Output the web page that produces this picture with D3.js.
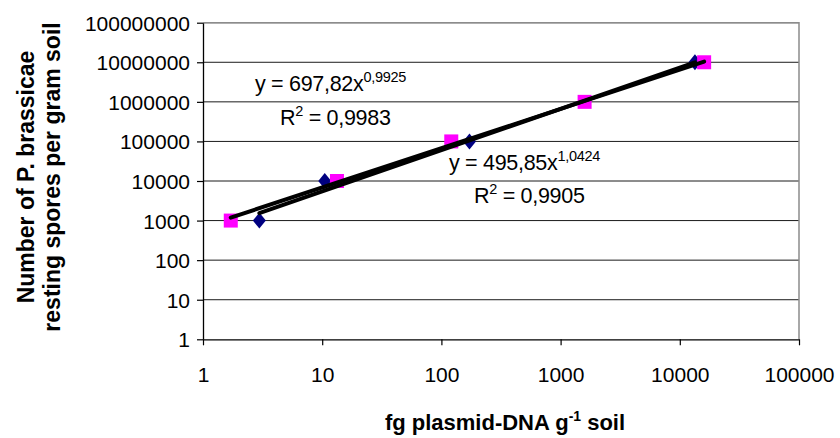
<!DOCTYPE html>
<html>
<head>
<meta charset="utf-8">
<script src="https://cdn.jsdelivr.net/npm/d3@7/dist/d3.min.js"></script>
<style>
  body { margin: 0; background: #fff; }
  text { font-family: Arial, "Liberation Sans", sans-serif; }
</style>
</head>
<body>
<div id="chart"></div>
<script>
// Data
var xTicks = [1, 10, 100, 1000, 10000, 100000];
var yTicks = [1, 10, 100, 1000, 10000, 100000, 1000000, 10000000, 100000000];

// series 1 (magenta squares)
var squareX = [1.71, 13.3, 121, 1590, 16000];
var squareY = [1000, 10000, 100000, 1000000, 10000000];

// series 2 (navy diamonds)
var diamondX = [2.97, 10.5, 172, 13400];
var diamondY = [1000, 10000, 100000, 10000000];

// power trendlines y = a * x^b, as printed on the chart
var trendA = [697.82, 495.85];
var trendB = [0.9925, 1.0424];
var trendLabel = ['697,82x', '495,85x'];
var trendExpLabel = ['0,9925', '1,0424'];
var trendR2 = ['0,9983', '0,9905'];

var width = 840,
    height = 438;

var plot = {left: 203, right: 799, top: 22.7, bottom: 339.3};

var svg = d3.select('#chart')
            .append('svg')
            .attr('width', width)
            .attr('height', height);

svg.append('rect')
   .attr('width', width)
   .attr('height', height)
   .attr('fill', '#fff');

// Log scales on both axes
var x = d3.scaleLog()
          .domain([1, 100000])
          .range([plot.left, plot.right]);

var y = d3.scaleLog()
          .domain([1, 100000000])
          .range([plot.bottom, plot.top]);

// Horizontal gridlines
svg.append('g')
   .selectAll('line')
   .data(yTicks.slice(1))
   .enter()
   .append('line')
   .attr('x1', plot.left)
   .attr('x2', plot.right)
   .attr('y1', function(d) { return y(d); })
   .attr('y2', function(d) { return y(d); })
   .attr('stroke', '#1a1a1a')
   .attr('stroke-width', 1);

// grey frame on top and right
svg.append('path')
   .attr('d', 'M' + plot.left + ',' + plot.top + 'H' + plot.right + 'V' + plot.bottom)
   .attr('fill', 'none')
   .attr('stroke', '#8c8c8c')
   .attr('stroke-width', 1.5);

// Axes
var x_axis = d3.axisBottom(x)
               .tickValues(xTicks)
               .tickFormat(d3.format('d'))
               .tickSizeInner(6)
               .tickSizeOuter(0)
               .tickPadding(22);

var y_axis = d3.axisLeft(y)
               .tickValues(yTicks)
               .tickFormat(d3.format('d'))
               .tickSizeInner(6)
               .tickSizeOuter(0)
               .tickPadding(7);

var gx = svg.append('g')
            .attr('transform', 'translate(0,' + plot.bottom + ')')
            .call(x_axis);

var gy = svg.append('g')
            .attr('transform', 'translate(' + plot.left + ',0)')
            .call(y_axis);

[gx, gy].forEach(function(g) {
  g.select('.domain').attr('stroke', '#000').attr('stroke-width', 1.3);
  g.selectAll('.tick line').attr('stroke', '#000').attr('stroke-width', 1.2);
  g.selectAll('.tick text')
   .attr('font-family', 'Arial, "Liberation Sans", sans-serif')
   .attr('font-size', 21)
   .attr('fill', '#000');
});
gy.selectAll('.tick text').attr('dy', '0.36em');

// Markers: diamonds first, squares on top
svg.append('g')
   .selectAll('path')
   .data(diamondX)
   .enter()
   .append('path')
   .attr('d', 'M0,-8L6.5,0L0,8L-6.5,0Z')
   .attr('transform', function(d, i) {
     return 'translate(' + x(d) + ',' + y(diamondY[i]) + ')';
   })
   .attr('fill', '#000080');

svg.append('g')
   .selectAll('rect')
   .data(squareX)
   .enter()
   .append('rect')
   .attr('x', function(d) { return x(d) - 7; })
   .attr('y', function(d, i) { return y(squareY[i]) - 7; })
   .attr('width', 14)
   .attr('height', 14)
   .attr('fill', '#ff00ff');

// Trendlines across each series' x range
var seriesX = [squareX, diamondX];
var line = d3.line()
             .x(function(d) { return x(d[0]); })
             .y(function(d) { return y(d[1]); });

seriesX.forEach(function(xs, k) {
  var ends = d3.extent(xs).map(function(v) {
    return [v, trendA[k] * Math.pow(v, trendB[k])];
  });
  svg.append('path')
     .attr('d', line(ends))
     .attr('fill', 'none')
     .attr('stroke', '#000')
     .attr('stroke-width', 4)
     .attr('stroke-linecap', 'round');
});

// Trendline equations
var eqPos = [[255, 91, 280, 125], [449, 170, 474, 203]];

eqPos.forEach(function(p, k) {
  var t = svg.append('text')
             .attr('x', p[0])
             .attr('y', p[1])
             .attr('font-size', 21.5)
             .attr('letter-spacing', -0.3)
             .attr('fill', '#000');
  t.append('tspan').text('y = ' + trendLabel[k]);
  t.append('tspan')
   .attr('font-size', 14.5)
   .attr('dy', -9)
   .text(trendExpLabel[k]);

  var r = svg.append('text')
             .attr('x', p[2])
             .attr('y', p[3])
             .attr('font-size', 21.5)
             .attr('letter-spacing', -0.3)
             .attr('fill', '#000');
  r.append('tspan').text('R');
  r.append('tspan').attr('font-size', 14.5).attr('dy', -9).text('2');
  r.append('tspan').attr('dy', 9).text(' = ' + trendR2[k]);
});

// Axis titles
var xt = svg.append('text')
            .attr('x', (plot.left + plot.right) / 2 + 4)
            .attr('y', 430)
            .attr('text-anchor', 'middle')
            .attr('font-size', 22)
            .attr('font-weight', 'bold')
            .attr('fill', '#000');
xt.append('tspan').text('fg plasmid-DNA g');
xt.append('tspan').attr('font-size', 14).attr('dy', -9).text('-1');
xt.append('tspan').attr('dy', 9).text(' soil');

var yt = svg.append('text')
            .attr('transform', 'translate(0,' + ((plot.top + plot.bottom) / 2 - 4) + ') rotate(-90)')
            .attr('text-anchor', 'middle')
            .attr('font-size', 23)
            .attr('font-weight', 'bold')
            .attr('fill', '#000');
yt.append('tspan').attr('x', 0).attr('y', 34).text('Number of P. brassicae');
yt.append('tspan').attr('x', 0).attr('y', 60).text('resting spores per gram soil');
</script>
</body>
</html>
